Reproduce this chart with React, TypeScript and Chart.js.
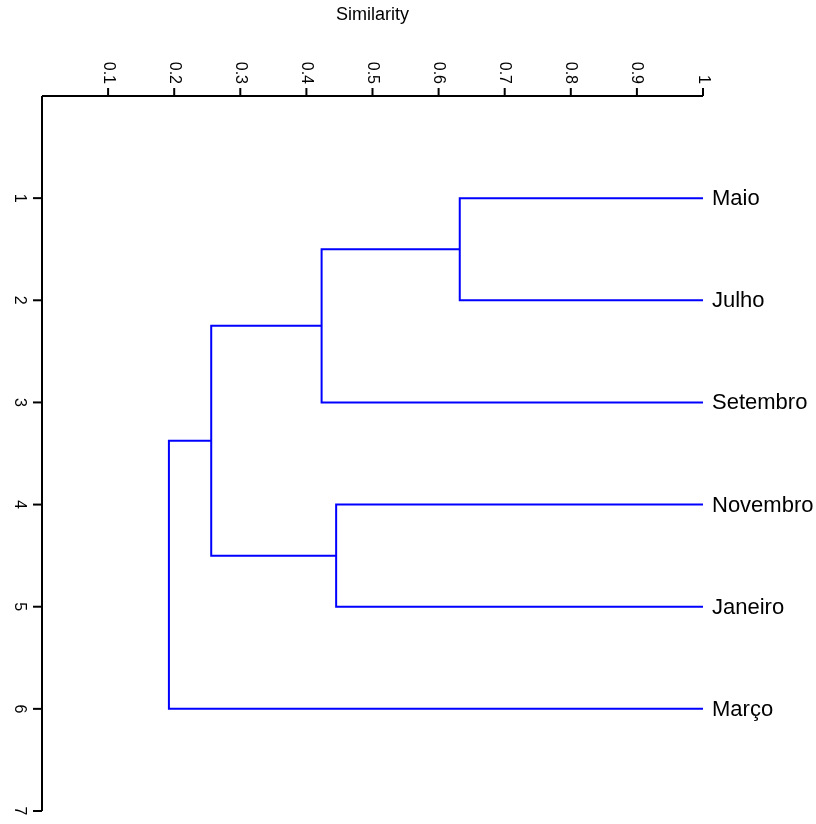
import React, { useEffect, useRef } from "react";
import { Chart, registerables } from "chart.js";

Chart.register(...registerables);

// Leaves in display order (position 1..6 on the vertical axis)
const leafLabels = ["Maio", "Julho", "Setembro", "Novembro", "Janeiro", "Março"];
// hclust-style merges: negative = leaf number, positive = earlier merge number
const mergeLeft = [-1, -4, 1, 3, 4];
const mergeRight = [-2, -5, -3, 2, -6];
const mergeSimilarity = [0.632, 0.445, 0.423, 0.256, 0.192];
const similarityTicks = [0.1, 0.2, 0.3, 0.4, 0.5, 0.6, 0.7, 0.8, 0.9, 1];
const positionTicks = [1, 2, 3, 4, 5, 6, 7];
const leafSimilarity = 1;
const axisTitle = "Similarity";

const FONT = "'Liberation Sans', Arial, Helvetica, sans-serif";

function buildDatasets() {
  const nodeY: number[] = [];
  const nodeX: number[] = [];
  const pos = (ref: number) =>
    ref < 0
      ? { x: leafSimilarity, y: -ref }
      : { x: nodeX[ref - 1], y: nodeY[ref - 1] };
  const datasets: any[] = [];
  for (let i = 0; i < mergeLeft.length; i++) {
    const a = pos(mergeLeft[i]);
    const b = pos(mergeRight[i]);
    const h = mergeSimilarity[i];
    nodeX[i] = h;
    nodeY[i] = (a.y + b.y) / 2;
    datasets.push({
      data: [
        { x: a.x, y: a.y },
        { x: h, y: a.y },
        { x: h, y: b.y },
        { x: b.x, y: b.y },
      ],
      showLine: true,
      borderColor: "#0000ff",
      borderWidth: 2,
      pointRadius: 0,
      tension: 0,
      fill: false,
    });
  }
  return datasets;
}

const decorPlugin = {
  id: "dendroDecor",
  afterDraw(chart: any) {
    const { ctx, chartArea } = chart;
    const xs = chart.scales.x;
    const ys = chart.scales.y;
    ctx.save();
    ctx.strokeStyle = "#000";
    ctx.fillStyle = "#000";
    ctx.lineWidth = 2;
    // axis lines
    ctx.beginPath();
    ctx.moveTo(chartArea.left, chartArea.top);
    ctx.lineTo(chartArea.right, chartArea.top);
    ctx.moveTo(chartArea.left, chartArea.top);
    ctx.lineTo(chartArea.left, chartArea.bottom);
    ctx.stroke();
    // x ticks (top)
    ctx.font = `16px ${FONT}`;
    for (const t of similarityTicks) {
      const px = xs.getPixelForValue(t);
      ctx.beginPath();
      ctx.moveTo(px, chartArea.top);
      ctx.lineTo(px, chartArea.top - 8);
      ctx.stroke();
      ctx.save();
      ctx.translate(px, chartArea.top - 12);
      ctx.rotate(Math.PI / 2);
      ctx.textAlign = "right";
      ctx.textBaseline = "middle";
      ctx.fillText(String(t), 0, 0);
      ctx.restore();
    }
    // y ticks (left)
    for (const t of positionTicks) {
      const py = ys.getPixelForValue(t);
      ctx.beginPath();
      ctx.moveTo(chartArea.left, py);
      ctx.lineTo(chartArea.left - 9, py);
      ctx.stroke();
      ctx.save();
      ctx.translate(chartArea.left - 23, py);
      ctx.rotate(Math.PI / 2);
      ctx.textAlign = "center";
      ctx.textBaseline = "middle";
      ctx.fillText(String(t), 0, 0);
      ctx.restore();
    }
    // title
    ctx.font = `18px ${FONT}`;
    ctx.textAlign = "center";
    ctx.textBaseline = "middle";
    ctx.fillText(axisTitle, (chartArea.left + chartArea.right) / 2, 15);
    // leaf labels
    ctx.font = `22px ${FONT}`;
    ctx.textAlign = "left";
    ctx.textBaseline = "middle";
    leafLabels.forEach((lab, i) => {
      const py = ys.getPixelForValue(i + 1);
      const px = xs.getPixelForValue(leafSimilarity) + 9;
      ctx.fillText(lab, px, py + 1);
    });
    ctx.restore();
  },
};

export default function App() {
  const ref = useRef<HTMLCanvasElement | null>(null);
  useEffect(() => {
    if (!ref.current) return;
    const chart = new Chart(ref.current, {
      type: "scatter",
      data: { datasets: buildDatasets() },
      options: {
        animation: false,
        responsive: false,
        devicePixelRatio: 1,
        layout: { padding: { left: 42, right: 113, top: 96, bottom: 13 } },
        plugins: { legend: { display: false }, tooltip: { enabled: false } },
        scales: {
          x: { type: "linear", min: 0, max: 1, display: false },
          y: { type: "linear", min: 0, max: 7, reverse: true, display: false },
        },
      },
      plugins: [decorPlugin],
    });
    return () => chart.destroy();
  }, []);
  return (
    <div style={{ position: "fixed", left: 0, top: 0, width: 816, height: 824, background: "#fff" }}>
      <canvas ref={ref} width={816} height={824} />
    </div>
  );
}
